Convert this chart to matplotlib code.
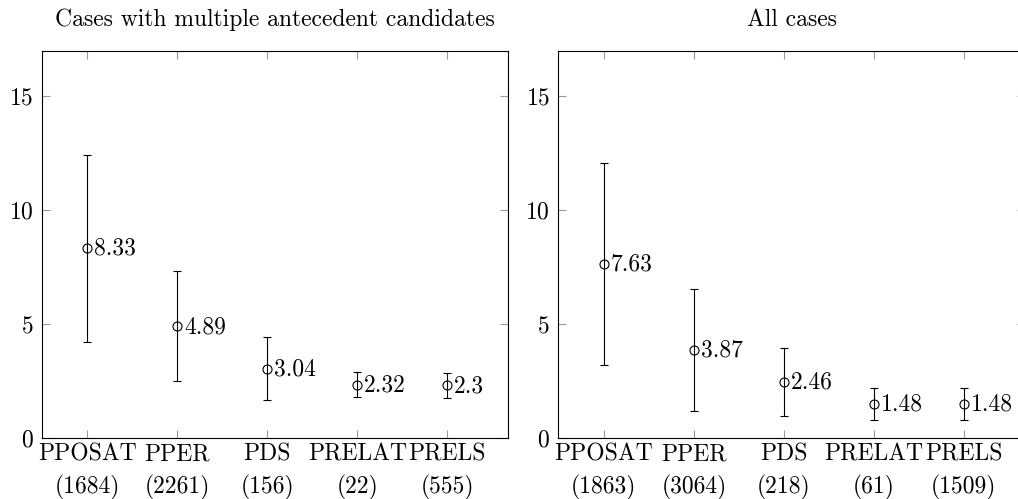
import numpy as np
import matplotlib
matplotlib.use('Agg')
import matplotlib.pyplot as plt

plt.rcParams['font.family'] = 'cmr10'
plt.rcParams['mathtext.fontset'] = 'cm'
plt.rcParams['axes.formatter.use_mathtext'] = True

# 대명사 유형
categories = ['PPOSAT', 'PPER', 'PDS', 'PRELAT', 'PRELS']

# 후보가 여러 개인 경우
multi_counts = [1684, 2261, 156, 22, 555]
multi_means = [8.33, 4.89, 3.04, 2.32, 2.3]
multi_err = [4.11, 2.42, 1.39, 0.55, 0.55]

# 전체
all_counts = [1863, 3064, 218, 61, 1509]
all_means = [7.63, 3.87, 2.46, 1.48, 1.48]
all_err = [4.44, 2.68, 1.5, 0.71, 0.71]

titles = ['Cases with multiple antecedent candidates', 'All cases']

fig = plt.figure(figsize=(10.18, 4.99), dpi=100)
ax1 = fig.add_axes([0.041, 0.1228, 0.4584, 0.7756])
ax2 = fig.add_axes([0.5484, 0.1228, 0.4584, 0.7756])  # 오른쪽 끝은 그림 밖으로 잘림

x = np.arange(1, len(categories) + 1)

for ax, means, errs, counts, title in [(ax1, multi_means, multi_err, multi_counts, titles[0]),
                                       (ax2, all_means, all_err, all_counts, titles[1])]:
    ax.errorbar(x, means, yerr=errs, fmt='o', mfc='none', mec='black', color='black',
                ms=6.5, mew=0.8, elinewidth=0.8, capsize=3.2, capthick=0.8)
    for xi, m in zip(x, means):
        ax.annotate(f'{m:g}', (xi, m), xytext=(5, -0.5), textcoords='offset points',
                    ha='left', va='center', fontsize=17)
    ax.set_xlim(0.493, 5.678)
    ax.set_ylim(0, 17)
    ax.set_yticks([0, 5, 10, 15])
    ax.set_xticks(x)
    ax.set_xticklabels([f'{c}\n({n})' for c, n in zip(categories, counts)], linespacing=1.5)
    ax.tick_params(axis='both', direction='in', length=6, width=0.8, color='#999999',
                   top=True, right=True, labelsize=17, pad=4)
    ax.tick_params(axis='y', pad=6)
    for s in ax.spines.values():
        s.set_linewidth(0.8)
    ax.set_title(title, fontsize=17, pad=18)

fig.savefig('out.png', dpi=100)
